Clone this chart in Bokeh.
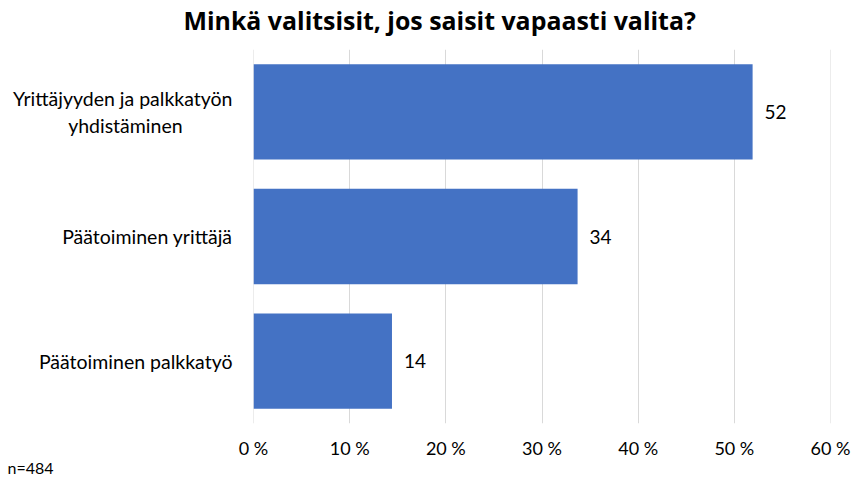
from bokeh.plotting import figure
from bokeh.models import (ColumnDataSource, LabelSet, Title, PrintfTickFormatter,
                          FixedTicker, FactorRange, Range1d, Span)
from bokeh.core.properties import value
from bokeh.embed import file_html
from bokeh.resources import INLINE

NBSP = "\u00a0"
# the wrapped label's second line is padded so it sits centred under the first line
categories = ["Päätoiminen palkkatyö", "Päätoiminen yrittäjä",
              "Yrittäjyyden ja palkkatyön\nyhdistäminen" + NBSP * 10]
values = [14.4, 33.7, 51.9]
value_labels = ["14", "34", "52"]
x_ticks = [0, 10, 20, 30, 40, 50, 60]
title_text = "Minkä valitsisit, jos saisit vapaasti valita?"
note_text = "n=484"

FONT = "Lato"

src = ColumnDataSource(dict(cat=categories, val=values, lab=value_labels))

p = figure(width=859, height=488, y_range=FactorRange(*categories, range_padding=0),
           x_range=Range1d(0, 60), output_backend="svg", toolbar_location=None,
           min_border_left=253, min_border_right=29, min_border_top=49, min_border_bottom=65)
p.outline_line_color = None
p.background_fill_color = "white"
p.border_fill_color = "white"

p.xgrid.grid_line_color = "#d9d9d9"
p.xgrid.grid_line_width = 1
p.ygrid.grid_line_color = None
for loc in (x_ticks[0], x_ticks[-1]):
    p.add_layout(Span(location=loc, dimension="height", line_color="#d9d9d9", line_width=1, level="underlay"))

p.hbar(y="cat", right="val", left=0, height=0.765, source=src, color="#4472C4", line_color=None)

p.add_layout(LabelSet(x="val", y="cat", text="lab", source=src, x_offset=12,
                      text_baseline="middle", text_align="left", text_font=value(FONT),
                      text_font_size="19px", text_color="#000000"))

p.xaxis.ticker = FixedTicker(ticks=x_ticks)
p.xaxis.formatter = PrintfTickFormatter(format="%d %%")
p.xaxis.axis_line_color = None
p.xaxis.major_tick_line_color = None
p.xaxis.minor_tick_line_color = None
p.xaxis.major_label_standoff = 7
p.xaxis.major_label_text_font = FONT
p.xaxis.major_label_text_font_size = "18px"
p.xaxis.major_label_text_color = "#000000"

p.yaxis.axis_line_color = None
p.yaxis.major_tick_line_color = None
p.yaxis.major_label_standoff = 15
p.yaxis.major_label_text_font = FONT
p.yaxis.major_label_text_font_size = "19.5px"
p.yaxis.major_label_text_color = "#000000"

# blank spacer between frame and title, then the title itself
p.add_layout(Title(text=" ", standoff=8, text_font_size="1px"), "above")
p.add_layout(Title(text=title_text, align="left", offset=-70, standoff=0, vertical_align="top",
                   text_font="Open Sans", text_font_style="bold", text_font_size="24.9px",
                   text_color="#000000"), "above")
p.add_layout(Title(text=note_text, align="left", offset=-246, standoff=-7, vertical_align="top",
                   text_font=FONT, text_font_style="normal", text_font_size="16px",
                   text_color="#000000"), "below")

open("out.html", "w").write(file_html(p, INLINE))
